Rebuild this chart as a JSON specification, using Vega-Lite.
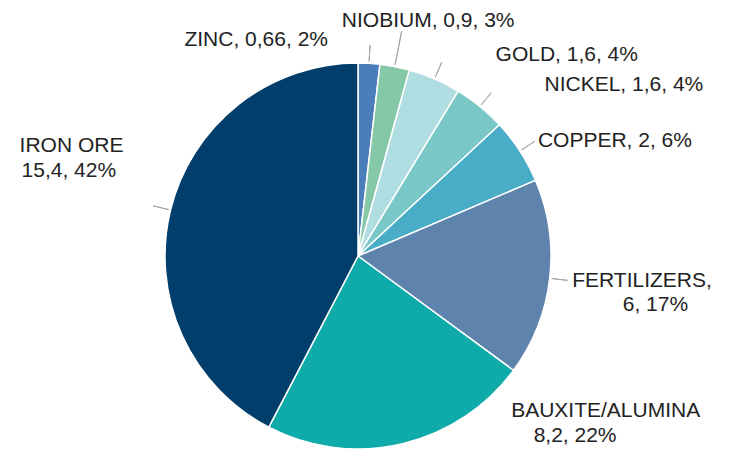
{
  "$schema": "https://vega.github.io/schema/vega-lite/v6.json",
  "width": 386,
  "height": 386,
  "autosize": {"type": "none"},
  "padding": {"left": 165, "top": 63, "right": 179, "bottom": 1},
  "background": "white",
  "config": {
    "view": {"stroke": null},
    "text": {"font": "Liberation Sans", "fontSize": 21, "fill": "#222222"}
  },
  "data": {
    "values": [
      {"name": "ZINC", "value": 0.66, "order": 1, "label": "ZINC, 0,66, 2%", "label2": ""},
      {"name": "NIOBIUM", "value": 0.9, "order": 2, "label": "NIOBIUM, 0,9, 3%", "label2": ""},
      {"name": "GOLD", "value": 1.6, "order": 3, "label": "GOLD, 1,6, 4%", "label2": ""},
      {"name": "NICKEL", "value": 1.6, "order": 4, "label": "NICKEL, 1,6, 4%", "label2": ""},
      {"name": "COPPER", "value": 2, "order": 5, "label": "COPPER, 2, 6%", "label2": ""},
      {"name": "FERTILIZERS", "value": 6, "order": 6, "label": "FERTILIZERS,", "label2": "6, 17%"},
      {"name": "BAUXITE/ALUMINA", "value": 8.2, "order": 7, "label": "BAUXITE/ALUMINA", "label2": "8,2, 22%"},
      {"name": "IRON ORE", "value": 15.4, "order": 8, "label": "IRON ORE", "label2": "15,4, 42%"}
    ]
  },
  "encoding": {
    "theta": {"field": "value", "type": "quantitative", "stack": true},
    "order": {"field": "order", "type": "quantitative"}
  },
  "layer": [
    {
      "mark": {"type": "arc", "outerRadius": 193, "stroke": "white", "strokeWidth": 1.5},
      "encoding": {
        "color": {
          "field": "name", "type": "nominal", "legend": null,
          "scale": {
            "domain": ["ZINC", "NIOBIUM", "GOLD", "NICKEL", "COPPER", "FERTILIZERS", "BAUXITE/ALUMINA", "IRON ORE"],
            "range": ["#4a7ebb", "#85c8a7", "#b0dde2", "#79c7c6", "#4aadc7", "#5e84ae", "#0faaaa", "#023e6c"]
          }
        }
      }
    },
    {
      "mark": {"type": "arc", "innerRadius": 195, "outerRadius": 229, "padAngle": 3, "fill": null, "stroke": "#a6a6a6", "strokeWidth": 1},
      "encoding": {
        "strokeOpacity": {"condition": {"test": "datum.name === 'NIOBIUM'", "value": 1}, "value": 0}
      }
    },
    {
      "mark": {"type": "arc", "innerRadius": 195, "outerRadius": 211, "padAngle": 3, "fill": null, "stroke": "#a6a6a6", "strokeWidth": 1},
      "encoding": {
        "strokeOpacity": {"condition": {"test": "datum.name !== 'NIOBIUM' && datum.name !== 'BAUXITE/ALUMINA'", "value": 1}, "value": 0}
      }
    },
    {
      "mark": {"type": "text", "radius": 193, "align": "right", "baseline": "middle", "dx": -41, "dy": -23},
      "encoding": {"text": {"condition": {"test": "datum.name === 'ZINC'", "field": "label", "type": "nominal"}, "value": ""}}
    },
    {
      "mark": {"type": "text", "radius": 193, "align": "left", "baseline": "middle", "dx": -53, "dy": -46},
      "encoding": {"text": {"condition": {"test": "datum.name === 'NIOBIUM'", "field": "label", "type": "nominal"}, "value": ""}}
    },
    {
      "mark": {"type": "text", "radius": 193, "align": "left", "baseline": "middle", "dx": 61, "dy": -24},
      "encoding": {"text": {"condition": {"test": "datum.name === 'GOLD'", "field": "label", "type": "nominal"}, "value": ""}}
    },
    {
      "mark": {"type": "text", "radius": 193, "align": "left", "baseline": "middle", "dx": 64.5, "dy": -21},
      "encoding": {"text": {"condition": {"test": "datum.name === 'NICKEL'", "field": "label", "type": "nominal"}, "value": ""}}
    },
    {
      "mark": {"type": "text", "radius": 193, "align": "left", "baseline": "middle", "dx": 18, "dy": -10},
      "encoding": {"text": {"condition": {"test": "datum.name === 'COPPER'", "field": "label", "type": "nominal"}, "value": ""}}
    },
    {
      "mark": {"type": "text", "radius": 193, "align": "left", "baseline": "middle", "dx": 22.5, "dy": 3},
      "encoding": {"text": {"condition": {"test": "datum.name === 'FERTILIZERS'", "field": "label", "type": "nominal"}, "value": ""}}
    },
    {
      "mark": {"type": "text", "radius": 193, "align": "left", "baseline": "middle", "dx": 73, "dy": 27},
      "encoding": {"text": {"condition": {"test": "datum.name === 'FERTILIZERS'", "field": "label2", "type": "nominal"}, "value": ""}}
    },
    {
      "mark": {"type": "text", "radius": 193, "align": "left", "baseline": "middle", "dx": 109.5, "dy": -33},
      "encoding": {"text": {"condition": {"test": "datum.name === 'BAUXITE/ALUMINA'", "field": "label", "type": "nominal"}, "value": ""}}
    },
    {
      "mark": {"type": "text", "radius": 193, "align": "left", "baseline": "middle", "dx": 132, "dy": -8},
      "encoding": {"text": {"condition": {"test": "datum.name === 'BAUXITE/ALUMINA'", "field": "label2", "type": "nominal"}, "value": ""}}
    },
    {
      "mark": {"type": "text", "radius": 193, "align": "left", "baseline": "middle", "dx": -151, "dy": -64.5},
      "encoding": {"text": {"condition": {"test": "datum.name === 'IRON ORE'", "field": "label", "type": "nominal"}, "value": ""}}
    },
    {
      "mark": {"type": "text", "radius": 193, "align": "left", "baseline": "middle", "dx": -149, "dy": -39},
      "encoding": {"text": {"condition": {"test": "datum.name === 'IRON ORE'", "field": "label2", "type": "nominal"}, "value": ""}}
    }
  ]
}
